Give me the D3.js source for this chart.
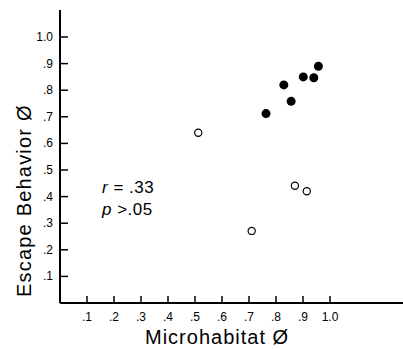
<!DOCTYPE html>
<html lang="en">
<meta charset="UTF-8">
<style>
    body{ margin:0; background:#fff; }
    text{ font-family: "Liberation Sans", Arial, sans-serif; fill:#000; }
</style>
<body>
<svg width="403" height="349" id="chart"></svg>
<script src="https://d3js.org/d3.v7.min.js"></script>
<script>
// data
const filledX = [0.763, 0.829, 0.856, 0.901, 0.940, 0.957];
const filledY = [0.712, 0.820, 0.758, 0.850, 0.847, 0.890];
const openX = [0.512, 0.870, 0.914, 0.710];
const openY = [0.640, 0.441, 0.420, 0.271];
const tickVals = [0.1, 0.2, 0.3, 0.4, 0.5, 0.6, 0.7, 0.8, 0.9, 1.0];
const tickLabels = [".1", ".2", ".3", ".4", ".5", ".6", ".7", ".8", ".9", "1.0"];

const svg = d3.select('#chart');
const x0 = 60, y0 = 303;

const x = d3.scaleLinear().domain([0, 1]).range([x0, x0 + 270]);
const y = d3.scaleLinear().domain([0, 1]).range([y0, y0 - 266]);

// axes lines
svg.append('line').attr('x1', x0).attr('x2', x0).attr('y1', 10).attr('y2', y0)
    .attr('stroke', '#000').attr('stroke-width', 2);
svg.append('line').attr('x1', x0).attr('x2', 403).attr('y1', y0).attr('y2', y0)
    .attr('stroke', '#000').attr('stroke-width', 2);

// ticks
svg.selectAll('.xt').data(tickVals).enter().append('line')
    .attr('x1', d => x(d)).attr('x2', d => x(d))
    .attr('y1', y0).attr('y2', y0 - 7)
    .attr('stroke', '#000').attr('stroke-width', 1.5);
svg.selectAll('.yt').data(tickVals).enter().append('line')
    .attr('y1', d => y(d)).attr('y2', d => y(d))
    .attr('x1', x0).attr('x2', x0 + 8)
    .attr('stroke', '#000').attr('stroke-width', 1.5);

svg.selectAll('.xl').data(tickVals).enter().append('text')
    .attr('x', (d, i) => x(d))
    .attr('y', 321)
    .attr('text-anchor', 'middle')
    .attr('font-size', '12px')
    .text((d, i) => tickLabels[i]);
svg.selectAll('.yl').data(tickVals).enter().append('text')
    .attr('x', 53)
    .attr('y', d => y(d) + 4)
    .attr('text-anchor', 'end')
    .attr('font-size', '12px')
    .text((d, i) => tickLabels[i]);

// points
svg.selectAll('.filled').data(filledX).enter().append('circle')
    .attr('cx', d => x(d)).attr('cy', (d, i) => y(filledY[i]))
    .attr('r', 4.5).attr('fill', '#000');
svg.selectAll('.open').data(openX).enter().append('circle')
    .attr('cx', d => x(d)).attr('cy', (d, i) => y(openY[i]))
    .attr('r', 3.6).attr('fill', '#fff').attr('stroke', '#000').attr('stroke-width', 1.2);

// axis titles
svg.append('text')
    .attr('x', 145).attr('y', 344)
    .attr('font-size', '20px')
    .attr('letter-spacing', '1px')
    .text('Microhabitat Ø');
svg.append('text')
    .attr('transform', 'translate(31,297) rotate(-90)')
    .attr('font-size', '20px')
    .attr('letter-spacing', '1.2px')
    .text('Escape Behavior Ø');

// stats
const st = svg.append('text').attr('x', 102).attr('y', 193).attr('font-size', '17px').attr('letter-spacing', '0.5px');
st.append('tspan').attr('font-style', 'italic').text('r');
st.append('tspan').text(' = .33');
const sp = svg.append('text').attr('x', 102).attr('y', 215).attr('font-size', '17px').attr('letter-spacing', '0.5px');
sp.append('tspan').attr('font-style', 'italic').text('p');
sp.append('tspan').text(' >.05');
</script>
</body>
</html>
